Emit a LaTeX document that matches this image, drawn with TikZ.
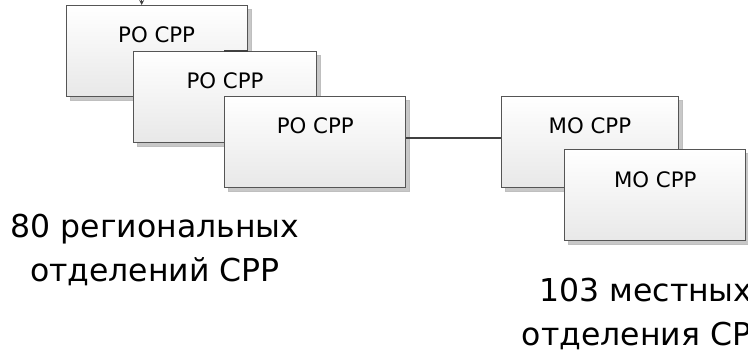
\documentclass[tikz,border=0pt]{standalone}
\usepackage{fontspec}
\setmainfont{DejaVu Sans}
\usetikzlibrary{shadows,arrows.meta}
\definecolor{boxborder}{HTML}{555555}
\definecolor{boxshadow}{HTML}{C8C8C8}
\definecolor{connc}{HTML}{404040}
\tikzset{
  orgbox/.style={draw=boxborder, line width=0.9pt, top color=white, bottom color=black!9,
    minimum width=181pt, inner sep=0pt, text height=37.3pt, text depth=53.7pt,
    font=\fontsize{21.3}{25}\selectfont, anchor=north west,
    drop shadow={shadow xshift=4pt, shadow yshift=-4pt, fill=boxshadow, draw=black!25, opacity=1}},
  conn/.style={draw=connc, line width=2.5pt},
  caption/.style={align=center, font=\fontsize{31.5}{44}\selectfont, inner sep=0pt}
}
\begin{document}
\begin{tikzpicture}[x=1pt,y=-1pt]
\useasboundingbox (0,0) rectangle (748,349);
\node[orgbox] (ro1) at (65.7,5) {РО СРР};
\node[orgbox, minimum width=182.7pt] (ro2) at (133.3,50.7) {РО СРР};
\node[orgbox] (ro3) at (224.3,95.7) {РО СРР};
\node[orgbox, minimum width=177.6pt] (mo1) at (500.7,95.7) {МО СРР};
\node[orgbox] (mo2) at (564.3,149.3) {МО СРР};
% hidden connector fragment on top edge of second box
\coordinate (fragA) at (ro2.north west -| ro3.west);
\coordinate (fragB) at (ro2.north west -| ro1.east);
\draw[conn, line width=1.6pt] (fragA) -- (fragB);
% incoming arrow at top
\coordinate (topin) at (141.7,0);
\draw[draw=connc, line width=1pt, -{Stealth[length=5pt,width=5pt]}] (topin) -- (topin |- ro1.north);
% connector between regional and local branches
\draw[conn] ([yshift=3.8pt]ro3.east) -- ([yshift=3.8pt]ro3.east -| mo1.west);
\node[caption, anchor=base] (cap1) at (155,281.5) {80 региональных\\отделений СРР};
\node[caption, anchor=base] (cap2) at (646,345.5) {103 местных\\отделения СРР};
\end{tikzpicture}
\end{document}
